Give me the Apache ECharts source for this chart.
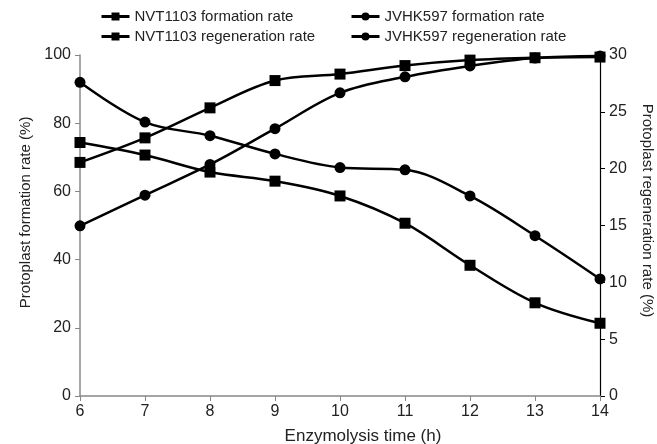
<!DOCTYPE html>
<html><head><meta charset="utf-8">
<script src="https://cdn.jsdelivr.net/npm/echarts@6/dist/echarts.min.js"></script>
<style>html,body{margin:0;padding:0;background:#fff}#c{width:657px;height:444px}</style>
</head><body><div id="c"></div>
<script>
var hours = [6, 7, 8, 9, 10, 11, 12, 13, 14];
var nvtFormation = [68.5, 75.7, 84.5, 92.5, 94.4, 96.9, 98.5, 99.2, 99.4];
var jvhkFormation = [49.9, 58.9, 67.9, 78.4, 88.9, 93.6, 96.8, 99.1, 99.7];
var nvtRegeneration = [22.3, 21.2, 19.7, 18.9, 17.6, 15.2, 11.5, 8.2, 6.4];
var jvhkRegeneration = [27.6, 24.1, 22.9, 21.3, 20.1, 19.9, 17.6, 14.1, 10.3];
var names = ['NVT1103 formation rate', 'JVHK597 formation rate', 'NVT1103 regeneration rate', 'JVHK597 regeneration rate'];

function pairs(vals){ return hours.map(function(h,i){ return [h, vals[i]]; }); }
var FONT = '"Liberation Sans", Arial, sans-serif';
var TXT = '#222';
function mkSeries(name, vals, sym, yi){
  return {
    name: name, type: 'line', yAxisIndex: yi, data: pairs(vals),
    smooth: 0.35, symbol: sym, symbolSize: 11,
    lineStyle: {color: '#000', width: 2.5},
    itemStyle: {color: '#000'},
    emphasis: {disabled: true}
  };
}
function mkLegend(name, left, top){
  return {data: [name], left: left, top: top, itemWidth: 28, itemHeight: 10, itemGap: 4,
    lineStyle: {width: 3},
    textStyle: {fontFamily: FONT, fontSize: 15, color: TXT}, padding: 0, selectedMode: false};
}
var chart = echarts.init(document.getElementById('c'));
chart.setOption({
  animation: false,
  backgroundColor: '#fff',
  legend: [
    mkLegend(names[0], 100, 9),
    mkLegend(names[1], 350, 9),
    mkLegend(names[2], 100, 29),
    mkLegend(names[3], 350, 29)
  ],
  grid: {left: 80, right: 57, top: 55, bottom: 48, containLabel: false, outerBoundsMode: 'none'},
  xAxis: {
    type: 'value', min: 6, max: 14, interval: 1,
    name: 'Enzymolysis time (h)', nameLocation: 'middle', nameGap: 32,
    nameTextStyle: {fontFamily: FONT, fontSize: 17, color: TXT, padding: [0, 0, 0, 46]},
    axisLine: {lineStyle: {color: '#888', width: 1.5}},
    axisTick: {show: true, length: 5, lineStyle: {color: '#888'}},
    axisLabel: {fontFamily: FONT, fontSize: 16, color: TXT, margin: 8},
    splitLine: {show: false}
  },
  yAxis: [{
    type: 'value', min: 0, max: 100, interval: 20, position: 'left',
    name: 'Protoplast formation rate (%)', nameLocation: 'middle', nameGap: 45,
    nameTextStyle: {fontFamily: FONT, fontSize: 15, color: TXT, padding: [0, 0, 0, 26]},
    axisLine: {show: true, lineStyle: {color: '#888', width: 1.5}},
    axisTick: {show: true, length: 5, lineStyle: {color: '#888'}},
    axisLabel: {fontFamily: FONT, fontSize: 16, color: TXT, margin: 9},
    splitLine: {show: false}
  }, {
    type: 'value', min: 0, max: 30, interval: 5, position: 'right',
    name: 'Protoplast regeneration rate (%)', nameLocation: 'middle', nameGap: 40, nameRotate: -90,
    nameTextStyle: {fontFamily: FONT, fontSize: 15, color: TXT, padding: [0, 30, 0, 0]},
    axisLine: {show: true, lineStyle: {color: '#000', width: 1.2}},
    axisTick: {show: true, length: 5, lineStyle: {color: '#000'}},
    axisLabel: {fontFamily: FONT, fontSize: 16, color: TXT, margin: 9},
    splitLine: {show: false}
  }],
  series: [
    mkSeries(names[0], nvtFormation, 'rect', 0),
    mkSeries(names[1], jvhkFormation, 'circle', 0),
    mkSeries(names[2], nvtRegeneration, 'rect', 1),
    mkSeries(names[3], jvhkRegeneration, 'circle', 1)
  ]
});
</script></body></html>
